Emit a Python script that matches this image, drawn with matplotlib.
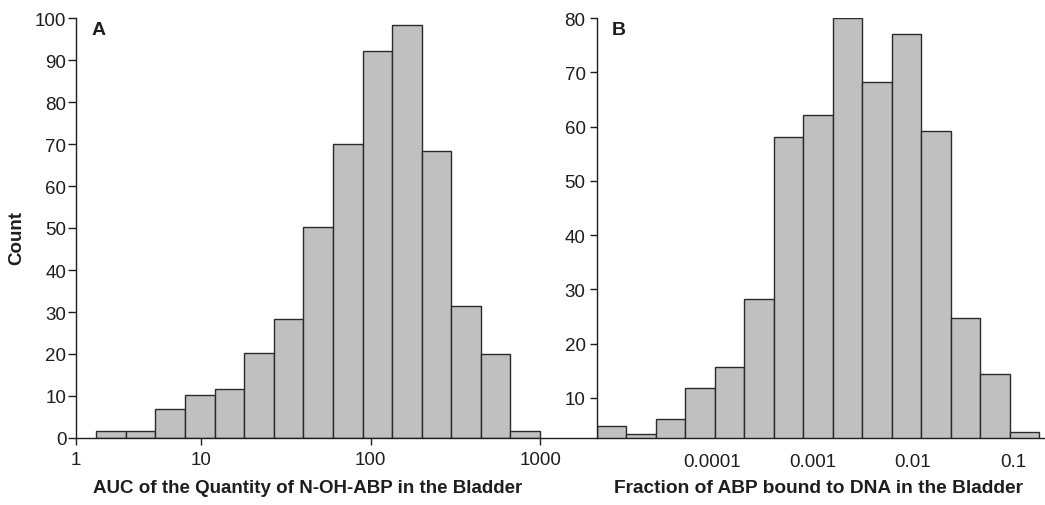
import numpy as np
import matplotlib
matplotlib.use("Agg")
import matplotlib.pyplot as plt
from matplotlib.ticker import NullLocator

plt.rcParams['font.family'] = ['Liberation Sans', 'DejaVu Sans']

# ---- data ----
# Panel A: AUC of N-OH-ABP (log-spaced bins)
a_edges = np.logspace(np.log10(2.4), 3.0, 16)
a_counts = [1.7, 1.7, 7.0, 10.2, 11.7, 20.3, 28.3, 50.2, 70.0, 92.2, 98.4, 68.4, 31.5, 20.1, 1.7]
a_xticklabels = ['1', '10', '100', '1000']
a_yticks = list(range(0, 101, 10))

# Panel B: fraction of ABP bound to DNA (log-spaced bins)
b_edges = np.logspace(-5.155, -0.74, 16)
b_counts = [4.9, 3.3, 6.2, 11.8, 15.7, 28.3, 58.1, 62.2, 80.0, 68.3, 77.1, 59.2, 24.8, 14.4, 3.7]
b_xticks = [1e-4, 1e-3, 1e-2, 1e-1]
b_xticklabels = ['0.0001', '0.001', '0.01', '0.1']
b_yticks = list(range(10, 81, 10))

W, H = 1045, 506
fig = plt.figure(figsize=(W / 100, H / 100), dpi=100)

def frac(x0, x1, ytop, ybot):
    return [x0 / W, 1 - ybot / H, (x1 - x0) / W, (ybot - ytop) / H]

ink = '#1e1e1e'
face = '#c0c0c0'
edge = '#2a2a2a'
TICK_FS = 13.5
LABEL_FS = 13.5

def style(ax):
    for s in ['top', 'right']:
        ax.spines[s].set_visible(False)
    for s in ['left', 'bottom']:
        ax.spines[s].set_color(ink)
        ax.spines[s].set_linewidth(1.0)
    ax.xaxis.set_minor_locator(NullLocator())
    ax.patch.set_alpha(0)

# ---- Panel A ----
axA = fig.add_axes(frac(76, 596, 19, 439))
axA.set_xscale('log')
axA.bar(a_edges[:-1], a_counts, width=np.diff(a_edges), align='edge',
        color=face, edgecolor=edge, linewidth=1.0)
xa_left = 10 ** 0.261
axA.set_xlim(xa_left, 10 ** 3.33)
axA.set_ylim(0, 100)
style(axA)
axA.set_xticks([xa_left, 10, 100, 1000])
axA.set_xticklabels(a_xticklabels)
axA.set_yticks(a_yticks)
axA.tick_params(axis='y', length=6, width=1.0, pad=1.0, labelsize=TICK_FS, colors=ink)
axA.tick_params(axis='x', length=5, width=1.0, pad=4.5, labelsize=TICK_FS, colors=ink)

# ---- Panel B ----
axB = fig.add_axes(frac(596.7, 1044, 19, 439))
axB.set_xscale('log')
axB.bar(b_edges[:-1], b_counts, width=np.diff(b_edges), align='edge',
        color=face, edgecolor=edge, linewidth=1.0)
axB.set_xlim(10 ** -5.155, 10 ** -0.69)
axB.set_ylim(2.63, 80)
style(axB)
axB.set_xticks(b_xticks)
axB.set_xticklabels(b_xticklabels)
axB.set_yticks(b_yticks)
axB.tick_params(axis='y', length=5, width=1.0, pad=3.0, labelsize=TICK_FS, colors=ink)
axB.tick_params(axis='x', length=0, pad=10.5, labelsize=TICK_FS, colors=ink)

# ---- labels ----
fig.text(92 / W, 1 - 35 / H, 'A', fontsize=14, fontweight='bold', color=ink,
         ha='left', va='baseline')
fig.text(612 / W, 1 - 35 / H, 'B', fontsize=14, fontweight='bold', color=ink,
         ha='left', va='baseline')
fig.text(307.5 / W, 1 - 489 / H, 'AUC of the Quantity of N-OH-ABP in the Bladder',
         fontsize=LABEL_FS, fontweight='bold', color=ink, ha='center', va='center')
fig.text(819 / W, 1 - 489 / H, 'Fraction of ABP bound to DNA in the Bladder',
         fontsize=13.8, fontweight='bold', color=ink, ha='center', va='center')
fig.text(17 / W, 1 - 238 / H, 'Count', fontsize=LABEL_FS, fontweight='bold', color=ink,
         ha='center', va='center', rotation=90)

fig.savefig('out.png', dpi=100)
